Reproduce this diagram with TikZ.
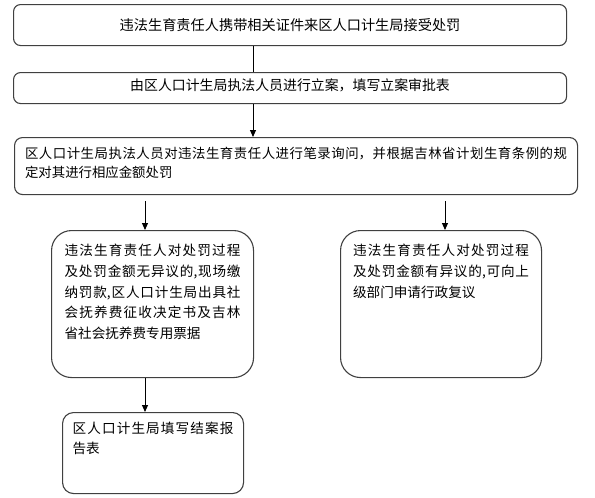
\documentclass[tikz,border=0pt]{standalone}
\usepackage{fontspec}
\setmainfont{Noto Sans CJK SC}
\usetikzlibrary{arrows.meta,calc}
\XeTeXlinebreaklocale "zh"
\XeTeXlinebreakskip=0pt plus 2pt
\newcommand{\boxtext}[4]{\parbox[c][#1][t]{#2}{\vspace*{#3}#4}}
\begin{document}
\begin{tikzpicture}[x=1pt,y=-1pt,
  box/.style={draw=black!75, line width=1.1pt, inner sep=0pt, anchor=north west},
  arr/.style={draw=black, line width=0.9pt, -{Triangle[length=7pt,width=6pt]}},
  plain/.style={draw=black, line width=0.9pt}]
\useasboundingbox (0,0) rectangle (595,498);
\node[box, rounded corners=7pt, minimum width=553pt, minimum height=41pt,
      font=\fontsize{14.2pt}{17pt}\selectfont] (b1) at (13,4)
  {违法生育责任人携带相关证件来区人口计生局接受处罚};
\node[box, rounded corners=7pt, minimum width=553pt, minimum height=31pt,
      font=\fontsize{13.9pt}{17pt}\selectfont] (b2) at (13,72)
  {\raisebox{2.5pt}[\height][\depth]{由区人口计生局执法人员进行立案，填写立案审批表}};
\node[box, rounded corners=8pt, minimum width=563pt, minimum height=57pt,
      font=\fontsize{13.4pt}{19pt}\selectfont] (b3) at (14,137)
  {\boxtext{57pt}{542pt}{9.7pt}{区人口计生局执法人员对违法生育责任人进行笔录询问，并根据吉林省计划生育条例的规\linebreak 定对其进行相应金额处罚}};
\node[box, rounded corners=20pt, minimum width=202pt, minimum height=147pt,
      font=\fontsize{13.6pt}{20.7pt}\selectfont] (b4) at (51,230)
  {\boxtext{147pt}{176pt}{13.6pt}{违法生育责任人对处罚过程\linebreak 及处罚金额无异议的,现场缴\linebreak 纳罚款,区人口计生局出具社\linebreak 会抚养费征收决定书及吉林\linebreak 省社会抚养费专用票据}};
\node[box, rounded corners=20pt, minimum width=201pt, minimum height=147pt,
      font=\fontsize{13.6pt}{20.7pt}\selectfont] (b5) at (340,230)
  {\boxtext{147pt}{176pt}{13.6pt}{违法生育责任人对处罚过程\linebreak 及处罚金额有异议的,可向上\linebreak 级部门申请行政复议}};
\node[box, rounded corners=11pt, minimum width=181pt, minimum height=81pt,
      font=\fontsize{13.6pt}{20pt}\selectfont] (b6) at (62,412)
  {\boxtext{81pt}{161pt}{9.6pt}{区人口计生局填写结案报\linebreak 告表}};
\coordinate (m) at (253,0);
\coordinate (l) at (145,0);
\coordinate (r) at (445,0);
\draw[plain] (b1.south -| m) -- (b2.north -| m);
\draw[arr] (b2.south -| m) -- (b3.north -| m);
\draw[arr] ($(b3.south -| l)+(0,6)$) -- (b4.north -| l);
\draw[arr] ($(b3.south -| r)+(0,6)$) -- (b5.north -| r);
\draw[arr] (b4.south -| l) -- (b6.north -| l);
\end{tikzpicture}
\end{document}
